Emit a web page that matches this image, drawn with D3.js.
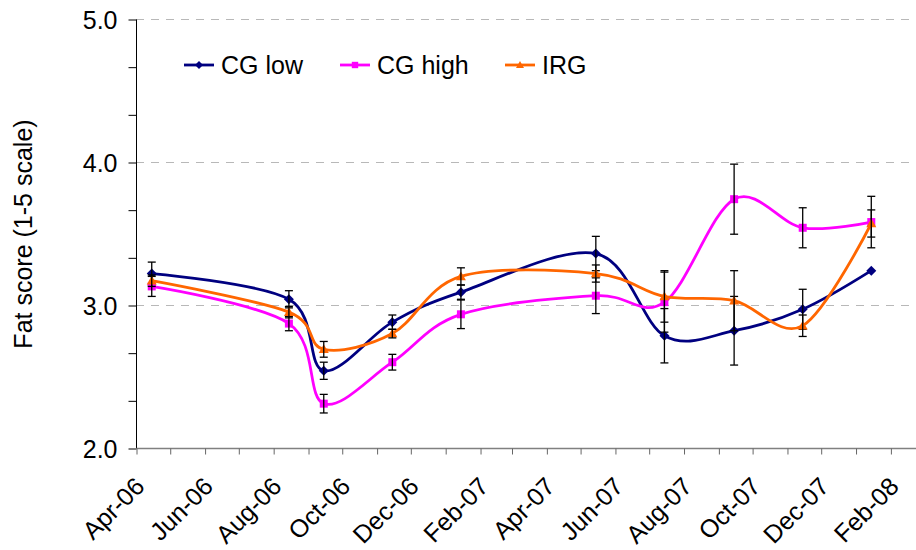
<!DOCTYPE html>
<html>
<head>
<meta charset="utf-8">
<script src="https://cdn.jsdelivr.net/npm/d3@7"></script>
<style>
  body { margin: 0; background: #fff; }
  text { font-family: "Liberation Sans", Arial, sans-serif; fill: #000; }
</style>
</head>
<body>
<div id="chart"></div>
<script>
// sampling dates (mid month)
var dates = ["2006-04-15", "2006-08-15", "2006-09-15", "2006-11-15", "2007-01-15",
             "2007-05-15", "2007-07-15", "2007-09-15", "2007-11-15", "2008-01-15"];

var cgLow     = [3.22, 3.04, 2.54, 2.88, 3.09, 3.36, 2.785, 2.82, 2.97, 3.24];
var cgLowErr  = [0.08, 0.06, 0.06, 0.05, 0.05, 0.12, 0.19, 0.24, 0.14, 0];
var cgHigh    = [3.13, 2.87, 2.31, 2.60, 2.935, 3.065, 3.02, 3.74, 3.54, 3.58];
var cgHighErr = [0.07, 0.05, 0.065, 0.055, 0.10, 0.125, 0.21, 0.245, 0.14, 0.18];
var irg       = [3.17, 2.95, 2.69, 2.80, 3.20, 3.22, 3.06, 3.03, 2.855, 3.57];
var irgErr    = [0.04, 0.04, 0.055, 0.03, 0.06, 0.06, 0.18, 0.21, 0.075, 0.095];

var seriesNames = ["CG low", "CG high", "IRG"];
var yTickLabels = [2, 3, 4, 5];

var width = 916, height = 550;
var parse = d3.timeParse("%Y-%m-%d");

var svg = d3.select("#chart")
  .append("svg")
  .attr("width", width)
  .attr("height", height);

var x = d3.scaleTime()
  .domain([new Date(2006, 3, 1), new Date(2008, 2, 1)])
  .range([136, 923]);

var y = d3.scaleLinear()
  .domain([2, 5])
  .range([448, 19]);

// dashed gridlines
svg.append("g")
  .selectAll("line")
  .data(yTickLabels.slice(1))
  .enter()
  .append("line")
  .attr("x1", 136)
  .attr("x2", width)
  .attr("y1", function(d) { return y(d) + 0.5; })
  .attr("y2", function(d) { return y(d) + 0.5; })
  .attr("stroke", "#b8b8b8")
  .attr("stroke-width", 1)
  .attr("stroke-dasharray", "8,7");

// y axis: ticks every 1/3, labels at whole numbers
var yAxis = d3.axisLeft(y)
  .tickValues(d3.range(0, 10).map(function(i) { return 2 + i / 3; }))
  .tickSize(8)
  .tickPadding(4)
  .tickFormat(function(d) {
    var r = Math.round(d);
    return Math.abs(d - r) < 1e-6 ? d3.format(".1f")(r) : "";
  });

var gy = svg.append("g")
  .attr("transform", "translate(136.5,0.5)")
  .call(yAxis);
gy.select(".domain").attr("stroke", "#000").attr("d", "M0," + y(5) + "V" + y(2));
gy.selectAll(".tick line").attr("stroke", "#000");
gy.selectAll(".tick text")
  .attr("font-size", 25)
  .attr("x", -19)
  .attr("dy", "0.35em");

// x axis: monthly ticks, labels every two months
var months = d3.timeMonth.range(new Date(2006, 3, 1), new Date(2008, 2, 2));
var xAxis = d3.axisBottom(x)
  .tickValues(months)
  .tickSize(6)
  .tickFormat("");

var gx = svg.append("g")
  .attr("transform", "translate(0.5,448.5)")
  .call(xAxis);
gx.select(".domain").attr("stroke", "#808080").attr("stroke-width", 1.5)
  .attr("d", "M136,0H" + width);
gx.selectAll(".tick line").attr("stroke", "#666");

var fmt = d3.timeFormat("%b-%y");
svg.append("g")
  .selectAll("text")
  .data(months.filter(function(d, i) { return i % 2 === 0 && i < 23; }))
  .enter()
  .append("text")
  .attr("font-size", 25)
  .attr("text-anchor", "end")
  .attr("transform", function(d) {
    return "translate(" + (x(d) + 10) + "," + 488 + ") rotate(-45)";
  })
  .text(function(d) { return fmt(d); });

// y axis title
svg.append("text")
  .attr("font-size", 25)
  .attr("text-anchor", "middle")
  .attr("transform", "translate(32,234) rotate(-90)")
  .text("Fat score (1-5 scale)");

// series
var colors = ["#000080", "#FF00FF", "#FF6600"];
var values = [cgLow, cgHigh, irg];
var errs = [cgLowErr, cgHighErr, irgErr];

function marker(sel, k, s) {
  if (k === 0) {
    sel.append("path").attr("d", "M0," + (-s) + "L" + s + ",0L0," + s + "L" + (-s) + ",0Z");
  } else if (k === 1) {
    sel.append("path").attr("d", "M" + (-s * 0.8) + "," + (-s * 0.8) + "h" + (s * 1.6) + "v" + (s * 1.6) + "h" + (-s * 1.6) + "Z");
  } else {
    sel.append("path").attr("d", "M0," + (-s) + "L" + s + "," + (s * 0.75) + "L" + (-s) + "," + (s * 0.75) + "Z");
  }
}

var line = d3.line()
  .x(function(d) { return x(d.date); })
  .y(function(d) { return y(d.v); })
  .curve(d3.curveCardinal.tension(0));

values.forEach(function(vals, k) {
  var data = vals.map(function(v, i) {
    return { date: parse(dates[i]), v: v, e: errs[k][i] };
  });
  var g = svg.append("g").attr("class", "series");

  g.append("path")
    .datum(data)
    .attr("d", line)
    .attr("fill", "none")
    .attr("stroke", colors[k])
    .attr("stroke-width", 2.8);

  g.selectAll(".mk")
    .data(data)
    .enter()
    .append("g")
    .attr("transform", function(d) { return "translate(" + x(d.date) + "," + y(d.v) + ")"; })
    .attr("fill", colors[k])
    .each(function() { marker(d3.select(this), k, 5); });

  var eb = g.selectAll(".err")
    .data(data.filter(function(d) { return d.e > 0; }))
    .enter()
    .append("g")
    .attr("stroke", "#000")
    .attr("stroke-width", 1.3);
  eb.append("line")
    .attr("x1", function(d) { return x(d.date); })
    .attr("x2", function(d) { return x(d.date); })
    .attr("y1", function(d) { return y(d.v + d.e); })
    .attr("y2", function(d) { return y(d.v - d.e); });
  [1, -1].forEach(function(sg) {
    eb.append("line")
      .attr("x1", function(d) { return x(d.date) - 4; })
      .attr("x2", function(d) { return x(d.date) + 4; })
      .attr("y1", function(d) { return y(d.v + sg * d.e); })
      .attr("y2", function(d) { return y(d.v + sg * d.e); });
  });
});

// legend
var legendX = [184, 340, 505];
var leg = svg.append("g")
  .selectAll("g")
  .data(seriesNames)
  .enter()
  .append("g")
  .attr("transform", function(d, i) { return "translate(" + legendX[i] + ",65)"; });

leg.append("line")
  .attr("x1", 0).attr("x2", 30)
  .attr("stroke", function(d, i) { return colors[i]; })
  .attr("stroke-width", 2.8);
leg.each(function(d, i) {
  var m = d3.select(this).append("g")
    .attr("transform", "translate(15,0)")
    .attr("fill", colors[i]);
  marker(m, i, 4);
});
leg.append("text")
  .attr("x", 37)
  .attr("dy", "0.35em")
  .attr("font-size", 25)
  .text(function(d) { return d; });
</script>
</body>
</html>
